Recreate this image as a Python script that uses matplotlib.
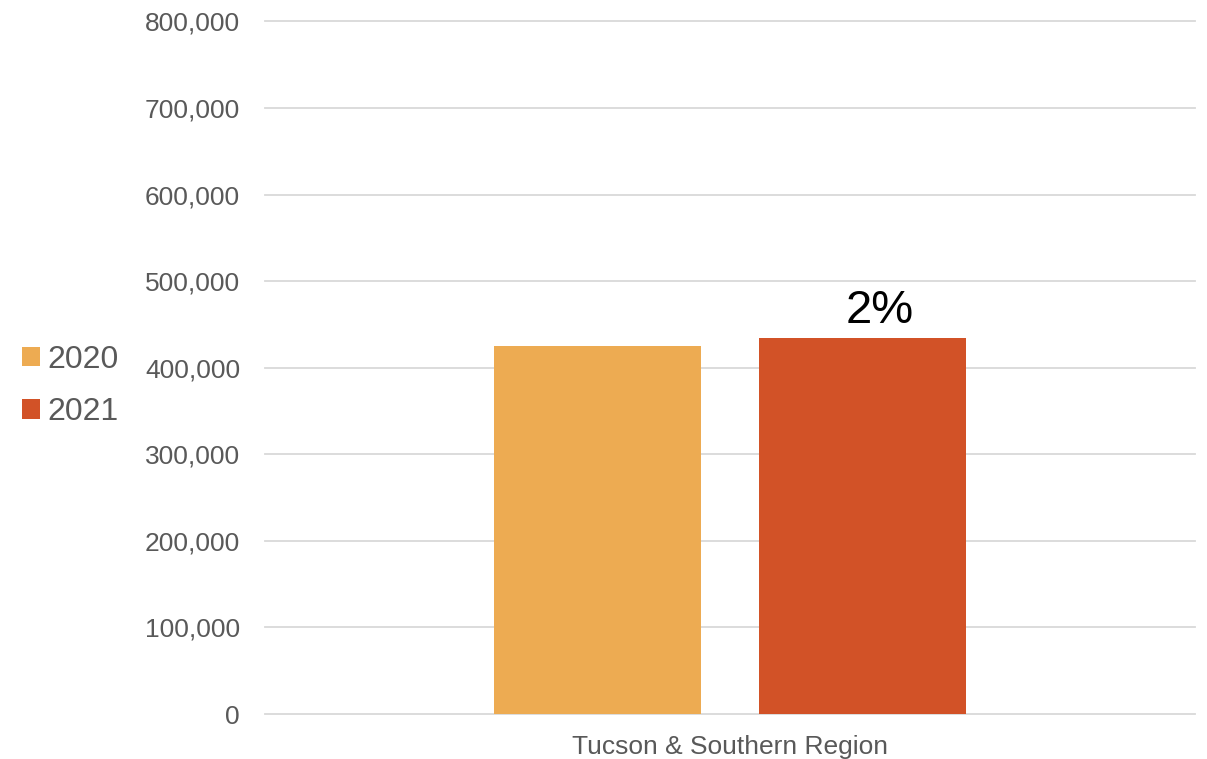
import matplotlib.pyplot as plt
from matplotlib.patches import Patch
from matplotlib.ticker import FuncFormatter
import numpy as np

# Visitor counts by year
categories = ["Tucson & Southern Region"]
years = ["2020", "2021"]
values_2020 = [425000]
values_2021 = [434000]
pct_change = ["2%"]

colors = ["#EDAB52", "#D25227"]
text_gray = "#595959"

plt.rcParams["font.family"] = ["Liberation Sans", "DejaVu Sans"]

fig = plt.figure(figsize=(12.07, 7.59), dpi=100)
ax = fig.add_axes([265 / 1207, 1 - 714 / 759, 930 / 1207, (714 - 21.5) / 759])

x = np.arange(len(categories))
width = 0.2226
offset = 0.1425
b1 = ax.bar(x - offset, values_2020, width, color=colors[0], zorder=2)
b2 = ax.bar(x + offset, values_2021, width, color=colors[1], zorder=2)

for rect, lab in zip(b2, pct_change):
    ax.text(rect.get_x() + rect.get_width() / 2 + 0.018, rect.get_height() + 6000, lab,
            ha="center", va="bottom", fontsize=34, color="black")

ax.set_xlim(-0.5, 0.5)
ax.set_ylim(0, 800000)
ax.set_yticks(np.arange(0, 800001, 100000))
ax.yaxis.set_major_formatter(FuncFormatter(lambda v, p: f"{int(v):,}"))
ax.set_xticks(x)
ax.set_xticklabels(categories)
ax.yaxis.grid(True, color="#D9D9D9", linewidth=1.3, zorder=0)
for gl in ax.get_ygridlines():
    gl.set_clip_on(False)
ax.set_axisbelow(True)
for s in ax.spines.values():
    s.set_visible(False)
ax.tick_params(axis="both", length=0, labelsize=19, labelcolor=text_gray)
ax.tick_params(axis="y", pad=18)
ax.tick_params(axis="x", pad=15)

handles = [Patch(facecolor=c, edgecolor="none") for c in colors]
fig.legend(handles, years, loc="center left", bbox_to_anchor=(-0.006, 1 - 386 / 759),
           frameon=False, fontsize=23, labelcolor=text_gray,
           handlelength=0.58, handleheight=0.58, handletextpad=0.22, labelspacing=0.7)

fig.savefig("out.png", dpi=100)
